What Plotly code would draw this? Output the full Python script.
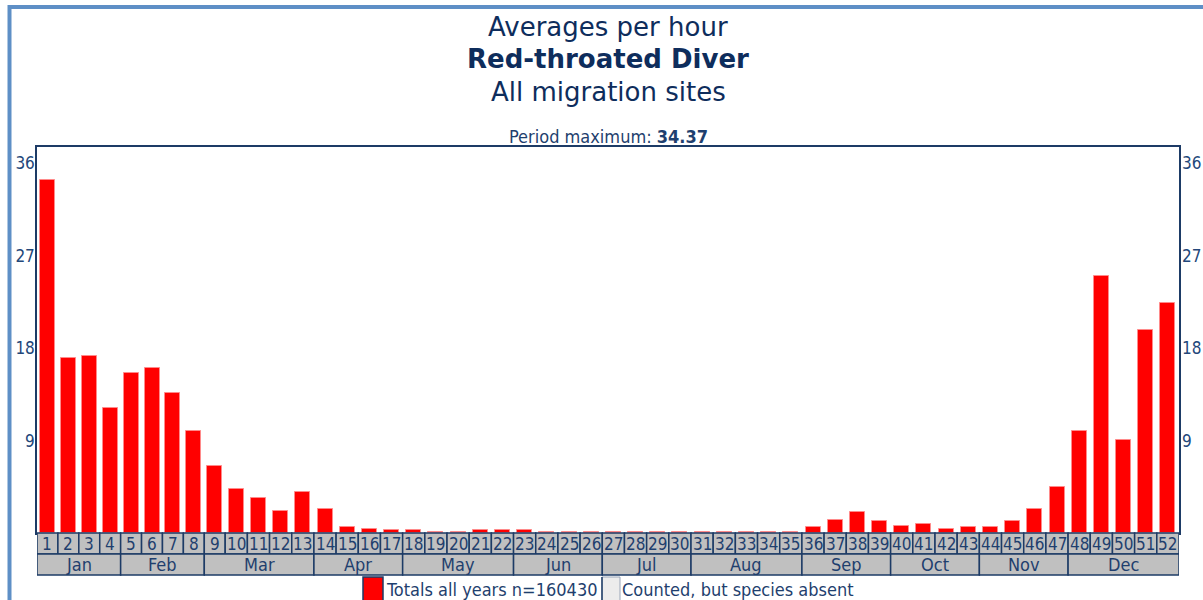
import plotly.graph_objects as go

# ---------------- data ----------------
week_labels = [str(i) for i in range(1, 53)]
avg_per_hour = [
    34.37, 17.0, 17.2, 12.2, 15.6, 16.1, 13.6, 9.9, 6.5, 4.3,
    3.4, 2.1, 4.0, 2.3, 0.55, 0.42, 0.26, 0.26, 0.13, 0.13,
    0.26, 0.26, 0.26, 0.13, 0.13, 0.13, 0.13, 0.13, 0.13, 0.13,
    0.13, 0.13, 0.13, 0.13, 0.13, 0.55, 1.27, 2.0, 1.14, 0.71,
    0.85, 0.42, 0.55, 0.55, 1.14, 2.31, 4.45, 9.96, 25.0, 9.1,
    19.8, 22.4,
]
month_names = ["Jan", "Feb", "Mar", "Apr", "May", "Jun",
               "Jul", "Aug", "Sep", "Oct", "Nov", "Dec"]
month_weeks = [4, 4, 5, 4, 5, 4, 4, 5, 4, 4, 4, 5]
y_ticks = [9, 18, 27, 36]
period_max = 34.37
legend_total = "Totals all years n=160430"
legend_absent = "Counted, but species absent"

# ---------------- layout constants ----------------
W, H = 1203, 600
PLOT_L, PLOT_T, PLOT_R, PLOT_B = 37, 147, 1179, 533   # plot box in window pixels
ML, MT = PLOT_L, PLOT_T
PW, PH = PLOT_R - PLOT_L, PLOT_B - PLOT_T
MR, MB = W - ML - PW, H - MT - PH
Y_MAX = 37.59
NAVY = "#1d3b66"
TEXT = "#1f3f6e"
TITLE_C = "#0e2d5c"
GRAY = "#c0c0c0"
FONT = "DejaVu Sans Condensed, Liberation Sans, sans-serif"
TFONT = "DejaVu Sans, Verdana, sans-serif"

# cell widths of the week table grow with the label length (like an html table)
CELL_PAD, CHAR_W = 19.65, 1.27
widths = [CELL_PAD + CHAR_W * len(s) for s in week_labels]
edges = [0.0]
for w in widths:
    edges.append(edges[-1] + w)
centers = [(edges[i] + edges[i + 1]) / 2 for i in range(len(widths))]
TOTAL = edges[-1]
BAR_W = 15 * TOTAL / PW


def py(pix):  # window pixel row -> paper y
    return (PLOT_B - pix) / PH


def px(pix):  # window pixel column -> paper x
    return (pix - PLOT_L) / PW


fig = go.Figure()
fig.add_trace(go.Bar(
    x=centers, y=avg_per_hour, width=BAR_W,
    marker=dict(color="#ff0000", line=dict(color="#ff8a8a", width=1)),
    name=legend_total, showlegend=False,
    customdata=week_labels,
    hovertemplate="Week %{customdata}: %{y}<extra></extra>",
))
fig.add_trace(go.Scatter(x=[], y=[], yaxis="y2", showlegend=False))

shapes = []
annotations = []

# week cells
ROW = 21
for i, lab in enumerate(week_labels):
    shapes.append(dict(type="rect", xref="x", yref="paper",
                       x0=edges[i], x1=edges[i + 1], y0=-ROW / PH, y1=0,
                       fillcolor=GRAY, line=dict(color=NAVY, width=1.5), layer="above"))
    annotations.append(dict(xref="x", yref="paper", x=centers[i], y=-ROW / 2 / PH,
                            text=lab, showarrow=False, xanchor="center", yanchor="middle",
                            font=dict(family=FONT, size=17, color=TEXT)))

# month cells
w0 = 0
for name, n in zip(month_names, month_weeks):
    x0, x1 = edges[w0], edges[w0 + n]
    shapes.append(dict(type="rect", xref="x", yref="paper",
                       x0=x0, x1=x1, y0=-2 * ROW / PH, y1=-ROW / PH,
                       fillcolor=GRAY, line=dict(color=NAVY, width=1.5), layer="above"))
    annotations.append(dict(xref="x", yref="paper", x=(x0 + x1) / 2, y=-1.5 * ROW / PH,
                            text=name, showarrow=False, xanchor="center", yanchor="middle",
                            font=dict(family=FONT, size=18, color=TEXT)))
    w0 += n

# titles
for txt, yy in [("Averages per hour", 27), ("<b>Red-throated Diver</b>", 59),
                ("All migration sites", 92)]:
    annotations.append(dict(xref="paper", yref="paper", x=0.5, y=py(yy), text=txt,
                            showarrow=False, xanchor="center", yanchor="middle",
                            font=dict(family=TFONT, size=26, color=TITLE_C)))
annotations.append(dict(xref="paper", yref="paper", x=0.5, y=py(137),
                        text=f"Period maximum: <b>{period_max}</b>",
                        showarrow=False, xanchor="center", yanchor="middle",
                        font=dict(family=FONT, size=18, color=TEXT)))

# legend (html-table style)
shapes.append(dict(type="rect", xref="paper", yref="paper",
                   x0=px(363), x1=px(383), y0=py(640), y1=py(577),
                   fillcolor="#ff0000", line=dict(color=NAVY, width=1.5)))
shapes.append(dict(type="rect", xref="paper", yref="paper",
                   x0=px(602), x1=px(620), y0=py(640), y1=py(577),
                   fillcolor="#ececec", line=dict(color="#9aa6b8", width=1)))
shapes.append(dict(type="line", xref="paper", yref="paper",
                   x0=px(602), x1=px(602), y0=py(640), y1=py(577),
                   line=dict(color=NAVY, width=1.5)))
annotations.append(dict(xref="paper", yref="paper", x=px(384), y=py(589),
                        text=legend_total, showarrow=False, xanchor="left", yanchor="middle",
                        font=dict(family=FONT, size=18, color=TEXT)))
annotations.append(dict(xref="paper", yref="paper", x=px(620), y=py(589),
                        text=legend_absent, showarrow=False, xanchor="left", yanchor="middle",
                        font=dict(family=FONT, size=18, color=TEXT)))

# outer blue frame
shapes.append(dict(type="rect", xref="paper", yref="paper",
                   x0=px(9.5), x1=px(1260), y0=py(700), y1=py(7),
                   line=dict(color="#5e8fc6", width=4), fillcolor="rgba(0,0,0,0)"))

tickfont = dict(family=FONT, size=17, color="#23477a")
fig.update_layout(
    width=W, height=H,
    margin=dict(l=ML, r=MR, t=MT, b=MB, pad=0, autoexpand=False),
    paper_bgcolor="white", plot_bgcolor="white",
    bargap=0,
    showlegend=False,
    xaxis=dict(range=[0, TOTAL], showticklabels=False, showgrid=False, zeroline=False,
               showline=True, mirror=True, linecolor=NAVY, linewidth=1.5, ticks="",
               automargin=False, fixedrange=True),
    yaxis=dict(range=[0, Y_MAX], tickvals=y_ticks, showgrid=False, zeroline=False,
               showline=True, mirror=True, linecolor=NAVY, linewidth=1.5, ticks="",
               tickfont=tickfont, automargin=False, fixedrange=True),
    yaxis2=dict(range=[0, Y_MAX], tickvals=y_ticks, overlaying="y", side="right",
                showgrid=False, zeroline=False, showline=False, ticks="",
                tickfont=tickfont, automargin=False, fixedrange=True),
    shapes=shapes,
    annotations=annotations,
)
for ax, standoff in (("yaxis", -3), ("yaxis2", 2)):
    try:
        fig.layout[ax].ticklabelstandoff = standoff
    except (ValueError, AttributeError):
        pass

# the page itself should not add a margin around the 1203x600 figure
fix_page = ("document.documentElement.style.margin='0';"
            "document.body.style.margin='0';"
            "document.body.style.overflow='hidden';"
            "document.documentElement.style.overflow='hidden';")
fig.write_html("out.html", post_script=fix_page,
               config={"displayModeBar": False, "staticPlot": False})
